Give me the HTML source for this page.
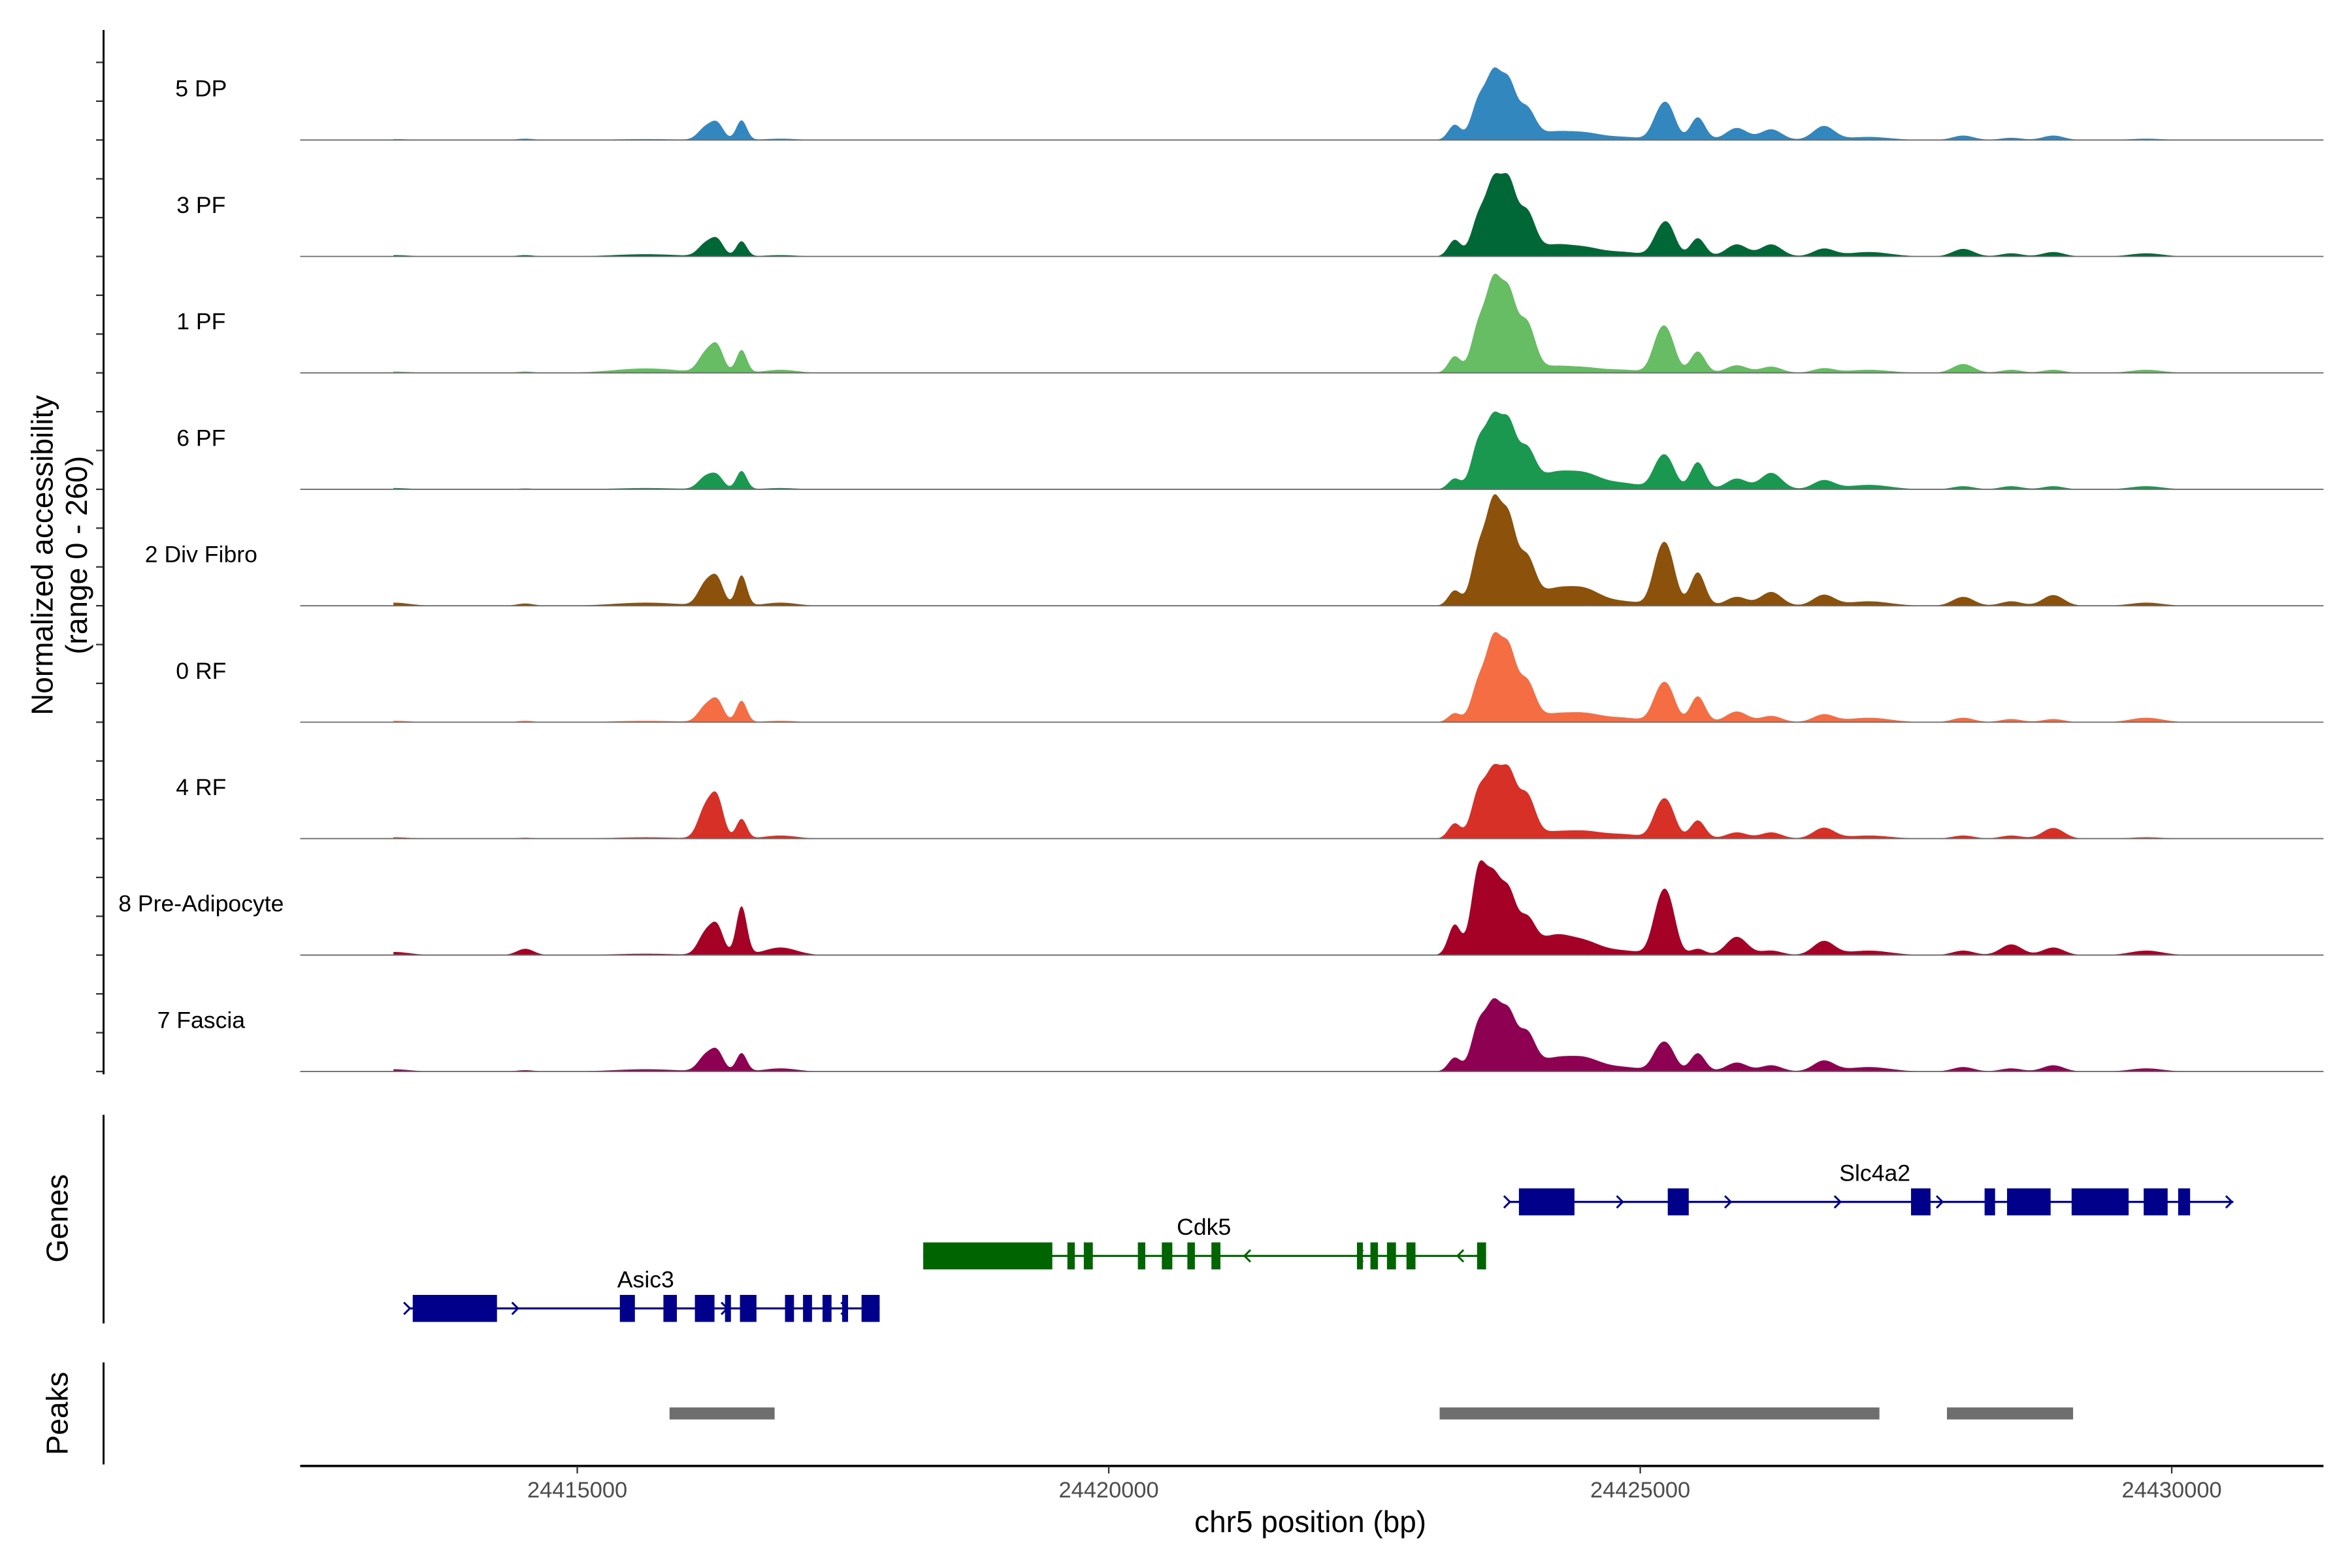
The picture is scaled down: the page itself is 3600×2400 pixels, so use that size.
<!DOCTYPE html>
<html><head><meta charset="utf-8"><style>
html,body{margin:0;padding:0;background:#fff;}
svg{display:block;}
text{font-family:"Liberation Sans",Arial,sans-serif;}
</style></head>
<body>
<svg id="chart" xmlns="http://www.w3.org/2000/svg" width="3600" height="2400" viewBox="0 0 1567 1045" preserveAspectRatio="none">
<rect width="1567" height="1045" fill="#fff"/>
<g id="tracks"></g>
<g id="genes"></g>
<g id="peaks"></g>
<g id="axes"></g>
</svg>
<script>
const trackNames = ["5 DP","3 PF","1 PF","6 PF","2 Div Fibro","0 RF","4 RF","8 Pre-Adipocyte","7 Fascia"];
const trackColors = ["#3387bf","#006837","#66bd63","#1a9850","#8c510a","#f46d43","#d73027","#a50026","#8e0152"];
const peakCenters = [24413294,24414538,24415674,24416238,24416351,24416578,24416946,24423306,24423532,24423674,24423815,24423985,24424240,24424523,24424877,24425231,24425330,24425599,24425967,24426292,24426788,24427212,24428104,24428557,24428953,24429831];
const peakSigmas = [150,80,300,70,60,50,150,60,70,70,70,80,150,150,200,70,70,70,100,100,100,200,100,100,100,150];
const h5DP = [2,3,2,27,34,44,3,34,85,136,119,68,17,14,7,48,61,51,27,24,31,7,10,5,10,3];
const h3PF = [3,3,5,27,34,34,3,37,85,153,153,95,24,17,10,41,58,41,27,27,17,10,17,7,10,7];
const h1PF = [3,3,10,41,54,51,7,37,102,187,163,109,14,10,7,68,68,48,17,14,10,7,20,7,7,7];
const h6PF = [3,2,3,27,27,41,3,24,102,143,136,85,34,31,14,48,51,61,24,37,20,10,7,7,7,7];
const h2DF = [7,5,7,48,54,68,7,34,119,211,177,102,34,34,10,88,95,75,20,31,24,10,20,10,24,7];
const h0RF = [3,3,3,34,44,48,3,20,85,170,150,88,17,17,10,54,61,58,24,14,17,10,10,7,7,10];
const h4RF = [3,2,3,68,82,44,7,34,102,136,136,95,14,14,10,54,61,41,14,14,24,7,7,7,24,3];
const h8PA = [7,14,3,48,58,109,17,68,187,153,129,75,41,27,10,88,102,14,41,10,31,10,10,24,17,10];
const h7F  = [5,3,5,34,41,41,7,31,102,136,119,82,27,27,10,41,44,41,20,14,24,10,10,7,14,7];
const trackHeights = [h5DP,h3PF,h1PF,h6PF,h2DF,h0RF,h4RF,h8PA,h7F];
const xTicks = [24415000,24420000,24425000,24430000];
const yRangeMax = 260;
const covStart = 24413294, covEnd = 24430600;
const peakRegions = [[24415899,24416890],[24423164,24427313],[24427950,24429140]];
const genes = [
 {name:"Asic3",strand:1,start:24413435,end:24417881,row:2,labelPos:24415674,
  exons:[[24413476,24414271],[24415430,24415572],[24415841,24415968],[24416138,24416323],[24416422,24416478],[24416563,24416719],[24416988,24417073],[24417158,24417243],[24417342,24417427],[24417527,24417583],[24417710,24417881]],
  arrows:[24413435,24414455,24416430,24417560]},
 {name:"Cdk5",strand:-1,start:24418292,end:24423602,row:1,labelPos:24420940,
  exons:[[24418292,24419510],[24419652,24419722],[24419807,24419892],[24420317,24420387],[24420543,24420642],[24420784,24420855],[24421011,24421096],[24422384,24422440],[24422511,24422582],[24422667,24422752],[24422851,24422936],[24423517,24423602]],
  arrows:[24421337,24422399,24423347]},
 {name:"Slc4a2",strand:1,start:24423813,end:24430652,row:0,labelPos:24427270,
  exons:[[24423912,24424436],[24425316,24425514],[24427611,24427795],[24428305,24428404],[24428517,24428928],[24429126,24429664],[24429806,24430032],[24430131,24430244]],
  arrows:[24423813,24424877,24425897,24426931,24427894,24430624]}
];

const NS="http://www.w3.org/2000/svg";
function mk(tag,attrs,parent){const e=document.createElementNS(NS,tag);for(const k in attrs)e.setAttribute(k,attrs[k]);parent.appendChild(e);return e;}
function xScale(bp){return 382.6+(bp-24415000)*0.070621;}
function xTickScale(bp){return 384.6+(bp-24415000)*0.07082;}
const plotL=200, plotR=1548, trackPitch=77.6, firstBase=93.3, trackH=77;
function yScale(v,base){return base - v/yRangeMax*trackH;}

const gT=document.getElementById('tracks');
const gA=document.getElementById('axes');
trackNames.forEach((nm,i)=>{
  const base=firstBase+i*trackPitch;
  const hs=trackHeights[i];
  let d="M"+xScale(covStart).toFixed(2)+","+base;
  for(let bp=covStart;bp<=covEnd;bp+=10){
    let v=0;
    for(let k=0;k<peakCenters.length;k++){const z=(bp-peakCenters[k])/peakSigmas[k];if(Math.abs(z)<5)v+=hs[k]*Math.exp(-0.5*z*z);}
    d+="L"+xScale(bp).toFixed(2)+","+yScale(v,base).toFixed(2);
  }
  d+="L"+xScale(covEnd).toFixed(2)+","+base+"Z";
  const p=mk('path',{d:d,fill:trackColors[i]},gT);
  
  
  const bl=mk('line',{x1:plotL,x2:plotR,y1:base,y2:base,stroke:'#6b6b6b','stroke-width':0.8},gT);
  
  
  const t=mk('text',{x:134,y:base-29,'font-size':15.5,'text-anchor':'middle',fill:'#000'},gT);
  t.textContent=nm;
  
  
  [2,1,0].forEach(o=>{
    const yy=base-o*trackPitch/3;
    const tk=mk('line',{x1:64,x2:69,y1:yy,y2:yy,stroke:'#333','stroke-width':1},gA);
    
    
  });
});

let e;
e=mk('line',{x1:69,x2:69,y1:20,y2:716,stroke:'#000','stroke-width':1.3},gA);

e=mk('text',{x:0,y:0,'font-size':20,'text-anchor':'middle',transform:'translate(35,370) rotate(-90)'},gA);
e.textContent='Normalized accessibility';

e=mk('text',{x:0,y:0,'font-size':20,'text-anchor':'middle',transform:'translate(58,370) rotate(-90)'},gA);
e.textContent='(range 0 - 260)';

e=mk('line',{x1:69,x2:69,y1:743,y2:882,stroke:'#000','stroke-width':1.3},gA);

e=mk('text',{x:0,y:0,'font-size':20,'text-anchor':'middle',transform:'translate(45,812) rotate(-90)'},gA);
e.textContent='Genes';

e=mk('line',{x1:69,x2:69,y1:908,y2:976,stroke:'#000','stroke-width':1.3},gA);

e=mk('text',{x:0,y:0,'font-size':20,'text-anchor':'middle',transform:'translate(45,942) rotate(-90)'},gA);
e.textContent='Peaks';


e=mk('line',{x1:plotL,x2:plotR,y1:977,y2:977,stroke:'#000','stroke-width':1.6},gA);

xTicks.forEach(v=>{
  const x=xTickScale(v);
  const tk=mk('line',{x1:x,x2:x,y1:977,y2:982,stroke:'#333','stroke-width':1},gA);
  
  
  const lb=mk('text',{x:x,y:998,'font-size':15,'text-anchor':'middle',fill:'#4d4d4d'},gA);
  lb.textContent=String(v);
  
  
});
e=mk('text',{x:873,y:1021,'font-size':20,'text-anchor':'middle',fill:'#000'},gA);
e.textContent='chr5 position (bp)';


const gG=document.getElementById('genes');
const rowY=[801,837,872];
genes.forEach(g=>{
  const y=rowY[g.row];
  const col=g.strand>0?'#00008b':'#006400';
  const grp=mk('g',{},gG);
  
  
  mk('line',{x1:xScale(g.start),x2:xScale(g.end),y1:y,y2:y,stroke:col,'stroke-width':1.4},grp);
  g.exons.forEach(ex=>{
    const r=mk('rect',{x:xScale(ex[0]),y:y-9,width:Math.max(1,xScale(ex[1])-xScale(ex[0])),height:18,fill:col},grp);
    
    
  });
  g.arrows.forEach(a=>{
    const x=xScale(a), s=g.strand;
    const pl=mk('polyline',{points:(x-3*s)+','+(y-4)+' '+(x+1*s)+','+y+' '+(x-3*s)+','+(y+4),fill:'none',stroke:col,'stroke-width':1.3},grp);
    
    
  });
  const lb=mk('text',{x:xScale(g.labelPos),y:y-14,'font-size':15.5,'text-anchor':'middle',fill:'#000'},grp);
  lb.textContent=g.name;
  
  
});

const gP=document.getElementById('peaks');
peakRegions.forEach(r=>{
  const rc=mk('rect',{x:xScale(r[0]),y:938,width:xScale(r[1])-xScale(r[0]),height:8,fill:'#6e6e6e'},gP);
  
  
});
</script>
</body></html>
